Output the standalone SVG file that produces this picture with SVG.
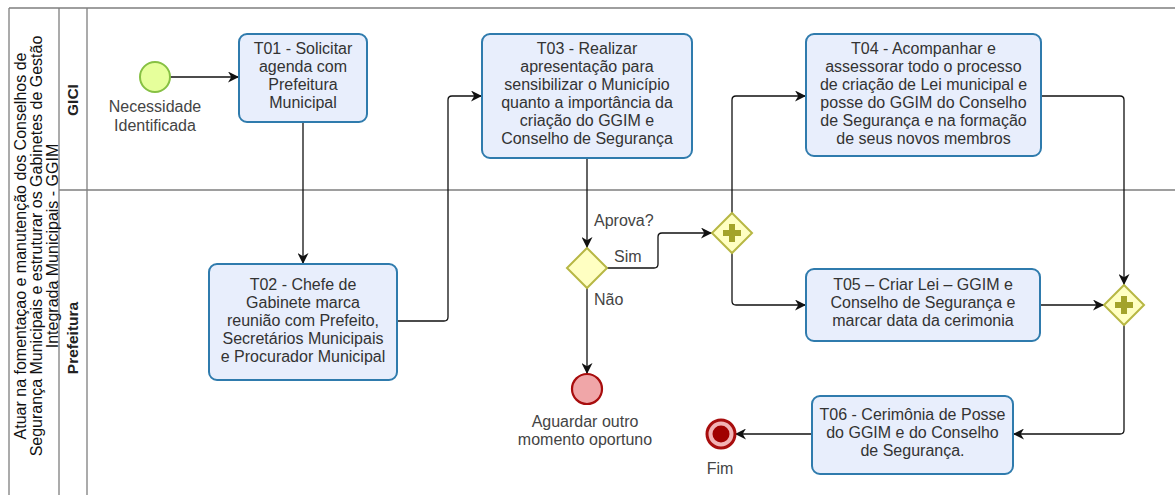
<svg xmlns="http://www.w3.org/2000/svg" width="1175" height="495" viewBox="0 0 1175 495">
<defs>
<style>
.pool{fill:none;stroke:#7f7f7f;stroke-width:1.3}
.task rect{fill:#e8eefc;stroke:#2f7bad;stroke-width:2}
.t{font-family:"Liberation Sans",Arial,sans-serif;font-size:16px;fill:#333;text-anchor:middle}
.lbl{font-family:"Liberation Sans",Arial,sans-serif;font-size:16px;fill:#444}
.hdr{font-family:"Liberation Sans",Arial,sans-serif;font-size:15.5px;font-weight:bold;fill:#222;text-anchor:middle}
.title{font-family:"Liberation Sans",Arial,sans-serif;font-size:16px;fill:#111;text-anchor:middle}
.gw{fill:#ffffc2;stroke:#b7b744;stroke-width:2}
.plus{fill:#a3a32a}
.conn path{fill:none;stroke:#111;stroke-width:1.3;marker-end:url(#arr)}
</style>
<marker id="arr" viewBox="0 0 10 10" refX="10" refY="5" markerWidth="11" markerHeight="11" markerUnits="userSpaceOnUse" orient="auto">
<path d="M0,0 L10,5 L0,10 L3,5 z" fill="#111"/>
</marker>
</defs>
<rect width="1175" height="495" fill="#fff"/>
<g id="pool">
<path class="pool" d="M9,8 H1175 M9,8 V495 M59,8 V495 M87,8 V495 M59,190 H1175"/>
<text class="title" transform="translate(37,246) rotate(-90)"><tspan x="0" y="-11">Atuar na fomentaçao e manutenção dos Conselhos de</tspan><tspan x="0" y="5">Segurança Municipais e estruturar os Gabinetes de Gestão</tspan><tspan x="0" y="21">Integrada Municipais - GGIM</tspan></text>
<text class="hdr" transform="translate(73,100) rotate(-90)" y="5">GICI</text>
<text class="hdr" transform="translate(73,338) rotate(-90)" y="5">Prefeitura</text>
</g>
<g class="conn" id="connectors">
<path d="M170,77 H239"/>
<path d="M303,122 V264"/>
<path d="M397,321 H444 Q448,321 448,317 V100 Q448,96 452,96 H482"/>
<path d="M587,158 V248"/>
<path d="M607,268 H654 Q658,268 658,264 V237 Q658,233 662,233 H712"/>
<path d="M732,213 V100 Q732,96 736,96 H806"/>
<path d="M732,253 V301 Q732,305 736,305 H806"/>
<path d="M1041,96 H1120 Q1124,96 1124,100 V285"/>
<path d="M1040,305 H1104"/>
<path d="M1124,325 V430 Q1124,434 1120,434 H1013"/>
<path d="M812,434 H735"/>
<path d="M587,288 V374"/>
</g>
<g id="start">
<circle cx="155" cy="77" r="15" fill="#e6ff9b" stroke="#86c043" stroke-width="2"/>
<text class="lbl" text-anchor="middle"><tspan x="155" y="112">Necessidade</tspan><tspan x="155" y="131">Identificada</tspan></text>
</g>
<g id="T01" class="task">
<rect x="239" y="34" width="128" height="88" rx="8"/>
<text class="t"><tspan x="303" y="54">T01 - Solicitar</tspan><tspan x="303" y="72">agenda com</tspan><tspan x="303" y="90">Prefeitura</tspan><tspan x="303" y="108">Municipal</tspan></text>
</g>
<g id="T02" class="task">
<rect x="209" y="264" width="188" height="116" rx="8"/>
<text class="t"><tspan x="303" y="290">T02 - Chefe de</tspan><tspan x="303" y="308">Gabinete marca</tspan><tspan x="303" y="326">reunião com Prefeito,</tspan><tspan x="303" y="344">Secretários Municipais</tspan><tspan x="303" y="362">e Procurador  Municipal</tspan></text>
</g>
<g id="T03" class="task">
<rect x="482" y="34" width="210" height="124" rx="8"/>
<text class="t"><tspan x="587" y="54">T03 - Realizar</tspan><tspan x="587" y="72">apresentação para</tspan><tspan x="587" y="90">sensibilizar o Município</tspan><tspan x="587" y="108">quanto a  importância da</tspan><tspan x="587" y="126">criação do GGIM e</tspan><tspan x="587" y="144">Conselho de Segurança</tspan></text>
</g>
<g id="GW1">
<path class="gw" d="M587,248 L607,268 L587,288 L567,268 Z"/>
<text class="lbl" x="594" y="226">Aprova?</text>
<text class="lbl" x="614" y="262">Sim</text>
<text class="lbl" x="594" y="305">Não</text>
</g>
<g id="GW2">
<path class="gw" d="M732,213 L752,233 L732,253 L712,233 Z"/>
<path class="plus" d="M729,224 H735 V230 H741 V236 H735 V242 H729 V236 H723 V230 H729 Z"/>
</g>
<g id="T04" class="task">
<rect x="806" y="34" width="235" height="122" rx="8"/>
<text class="t"><tspan x="923.5" y="54">T04 - Acompanhar e</tspan><tspan x="923.5" y="72">assessorar todo o processo</tspan><tspan x="923.5" y="90">de criação de Lei municipal e</tspan><tspan x="923.5" y="108">posse do GGIM do Conselho</tspan><tspan x="923.5" y="126">de Segurança e na formação</tspan><tspan x="923.5" y="144">de seus novos membros</tspan></text>
</g>
<g id="T05" class="task">
<rect x="806" y="269" width="234" height="72" rx="8"/>
<text class="t"><tspan x="923" y="290">T05 – Criar Lei – GGIM  e</tspan><tspan x="923" y="308">Conselho de Segurança e</tspan><tspan x="923" y="326">marcar data da cerimonia</tspan></text>
</g>
<g id="GW3">
<path class="gw" d="M1124,285 L1144,305 L1124,325 L1104,305 Z"/>
<path class="plus" d="M1121,296 H1127 V302 H1133 V308 H1127 V314 H1121 V308 H1115 V302 H1121 Z"/>
</g>
<g id="T06" class="task">
<rect x="812" y="396" width="201" height="78" rx="8"/>
<text class="t"><tspan x="912.5" y="420">T06 - Cerimônia de Posse</tspan><tspan x="912.5" y="438">do GGIM e do Conselho</tspan><tspan x="912.5" y="456">de Segurança.</tspan></text>
</g>
<g id="end-aguardar">
<circle cx="587" cy="389" r="15" fill="#f0a6a8" stroke="#a80d0d" stroke-width="2.2"/>
<text class="lbl" text-anchor="middle"><tspan x="585" y="427">Aguardar outro</tspan><tspan x="585" y="445">momento oportuno</tspan></text>
</g>
<g id="end-fim">
<circle cx="721" cy="434" r="14" fill="#f2b3b5" stroke="#a80d0d" stroke-width="3"/>
<circle cx="721" cy="434" r="8.5" fill="#a00000"/>
<text class="lbl" text-anchor="middle" x="720" y="474">Fim</text>
</g>
</svg>
